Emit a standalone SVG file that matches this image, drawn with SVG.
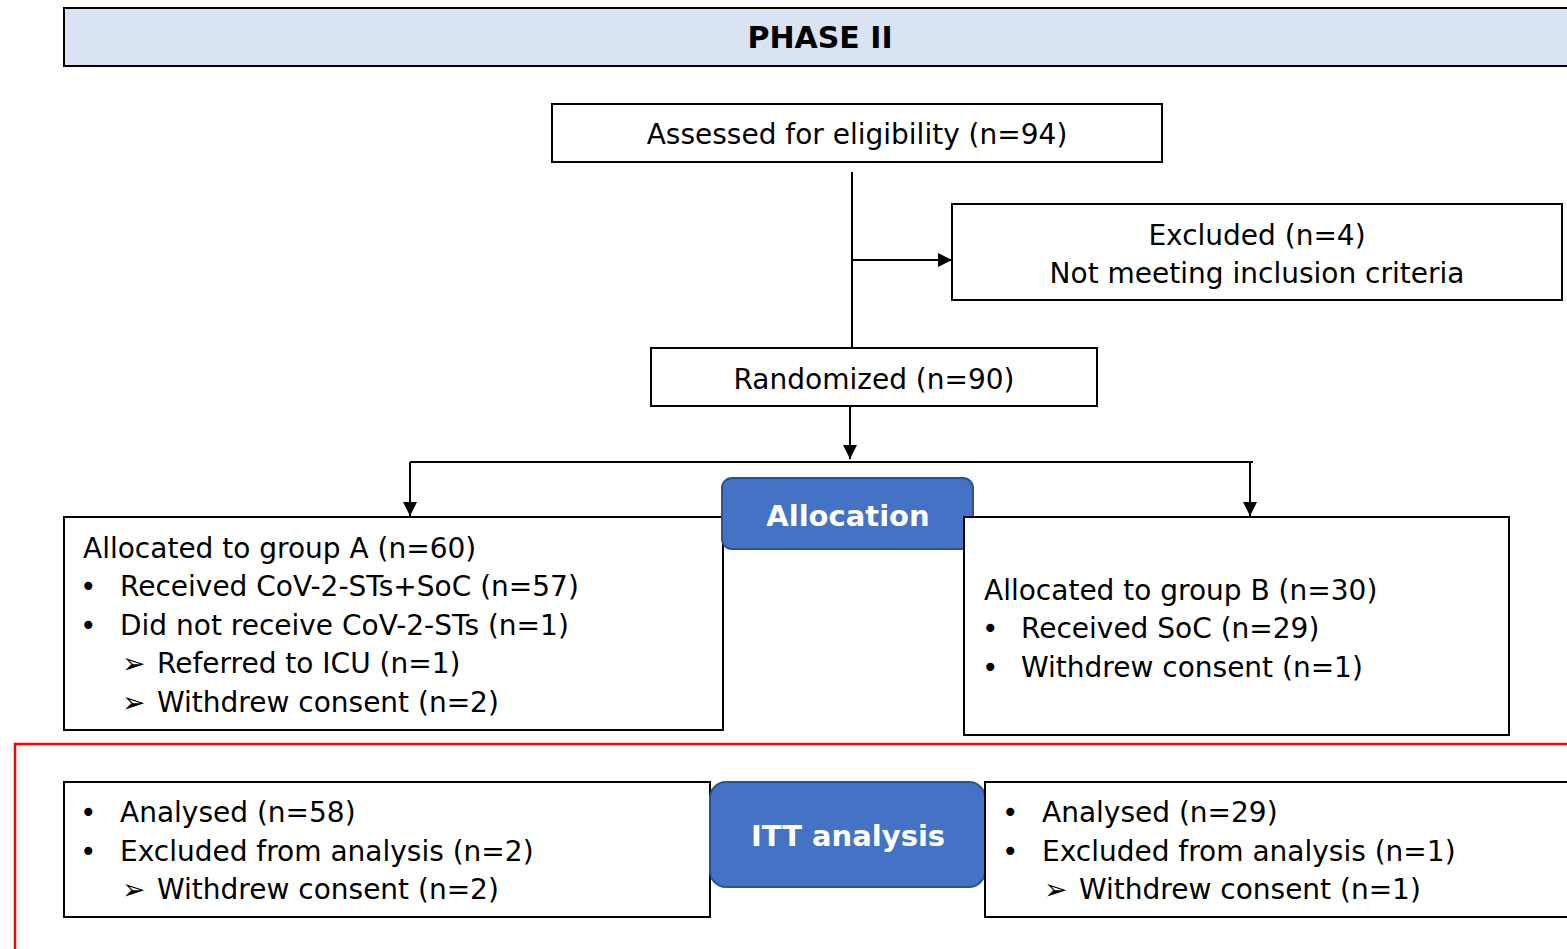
<svg xmlns="http://www.w3.org/2000/svg" width="1567" height="949" viewBox="0 0 1567 949">
<defs>
<marker id="arr" viewBox="0 0 10 10" refX="10" refY="5" markerWidth="14" markerHeight="14" markerUnits="userSpaceOnUse" orient="auto"><path d="M0,0 L10,5 L0,10 z" fill="#000"/></marker>
</defs>
<style>
.box{fill:#fff;stroke:#000;stroke-width:2}
.blue{fill:#4472C4;stroke:#2F528F;stroke-width:2}
.t{font-family:"DejaVu Sans",sans-serif;font-size:28px;fill:#000}
.c{text-anchor:middle}
.b{font-family:"DejaVu Sans",sans-serif;font-size:29px;font-weight:bold;text-anchor:middle}
.w{fill:#fff}
.line{stroke:#000;stroke-width:2;fill:none}
</style>
<rect width="1567" height="949" fill="#fff"/>
<g id="phase">
<rect x="64" y="8" width="1520" height="58" fill="#DAE3F3" stroke="#000" stroke-width="2"/>
<text class="b" x="820" y="48" fill="#000" style="font-size:30px">PHASE II</text>
</g>
<g id="itt-frame">
<rect x="15" y="744" width="1580" height="240" fill="none" stroke="#FF0000" stroke-width="2.5"/>
</g>
<g id="connectors">
<line class="line" x1="852" y1="172" x2="852" y2="348"/>
<line class="line" x1="852" y1="260" x2="952" y2="260" marker-end="url(#arr)"/>
<line class="line" x1="850" y1="406" x2="850" y2="459" marker-end="url(#arr)"/>
<line class="line" x1="410" y1="462" x2="1253" y2="462"/>
<line class="line" x1="410" y1="462" x2="410" y2="516" marker-end="url(#arr)"/>
<line class="line" x1="1250" y1="462" x2="1250" y2="516" marker-end="url(#arr)"/>
</g>
<g id="assessed">
<rect class="box" x="552" y="104" width="610" height="58"/>
<text class="t c" x="857" y="144">Assessed for eligibility (n=94)</text>
</g>
<g id="excluded">
<rect class="box" x="952" y="204" width="610" height="96"/>
<text class="t c" x="1257" y="245">Excluded (n=4)</text>
<text class="t c" x="1257" y="283">Not meeting inclusion criteria</text>
</g>
<g id="randomized">
<rect class="box" x="651" y="348" width="446" height="58"/>
<text class="t c" x="874" y="389">Randomized (n=90)</text>
</g>
<g id="groupA">
<rect class="box" x="64" y="517" width="659" height="213"/>
<text class="t" x="83" y="558">Allocated to group A (n=60)</text>
<text class="t" x="80" y="596">•</text><text class="t" x="120" y="596">Received CoV-2-STs+SoC (n=57)</text>
<text class="t" x="80" y="635">•</text><text class="t" x="120" y="635">Did not receive CoV-2-STs (n=1)</text>
<text class="t" x="122" y="673">➢</text><text class="t" x="157" y="673">Referred to ICU (n=1)</text>
<text class="t" x="122" y="712">➢</text><text class="t" x="157" y="712">Withdrew consent (n=2)</text>
</g>
<g id="allocation">
<rect class="blue" x="722" y="478" width="251" height="71" rx="10"/>
<text class="b w" x="848" y="526">Allocation</text>
</g>
<g id="groupB">
<rect class="box" x="964" y="517" width="545" height="218"/>
<text class="t" x="984" y="600">Allocated to group B (n=30)</text>
<text class="t" x="982" y="638">•</text><text class="t" x="1021" y="638">Received SoC (n=29)</text>
<text class="t" x="982" y="677">•</text><text class="t" x="1021" y="677">Withdrew consent (n=1)</text>
</g>
<g id="analysedA">
<rect class="box" x="64" y="782" width="646" height="135"/>
<text class="t" x="80" y="822">•</text><text class="t" x="120" y="822">Analysed (n=58)</text>
<text class="t" x="80" y="861">•</text><text class="t" x="120" y="861">Excluded from analysis (n=2)</text>
<text class="t" x="122" y="899">➢</text><text class="t" x="157" y="899">Withdrew consent (n=2)</text>
</g>
<g id="itt">
<rect class="blue" x="710" y="782" width="275" height="105" rx="16"/>
<text class="b w" x="848" y="846">ITT analysis</text>
</g>
<g id="analysedB">
<rect class="box" x="985" y="782" width="600" height="135"/>
<text class="t" x="1002" y="822">•</text><text class="t" x="1042" y="822">Analysed (n=29)</text>
<text class="t" x="1002" y="861">•</text><text class="t" x="1042" y="861">Excluded from analysis (n=1)</text>
<text class="t" x="1044" y="899">➢</text><text class="t" x="1079" y="899">Withdrew consent (n=1)</text>
</g>
</svg>
